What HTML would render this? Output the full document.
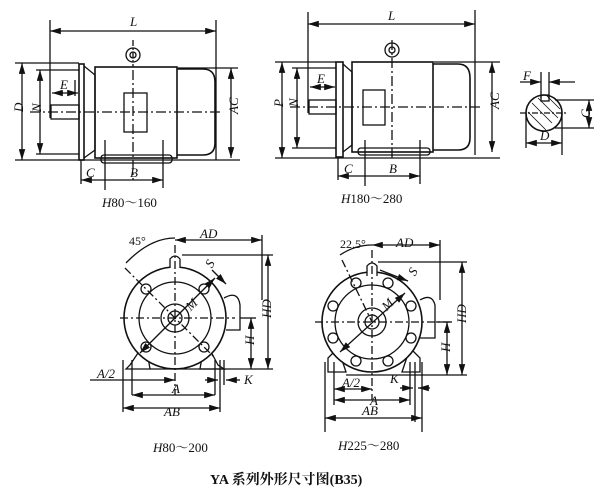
<!DOCTYPE html>
<html><head><meta charset="utf-8"><style>
html,body{margin:0;padding:0;background:#fff}
svg{display:block}
text{font-family:"Liberation Serif","Noto Serif CJK SC",serif;fill:#111}
.i{font-style:italic;font-size:13px}
</style></head><body>
<svg width="600" height="494" viewBox="0 0 600 494" xmlns="http://www.w3.org/2000/svg" stroke="#111" fill="none" stroke-width="1.2">
<defs><marker id="a" viewBox="0 0 10 6" refX="10" refY="3" markerWidth="9" markerHeight="5" orient="auto-start-reverse"><path d="M0,0L10,3L0,6z" fill="#111" stroke="none"/></marker></defs>
<g stroke-width="1.3">
<line x1="50" y1="20" x2="50" y2="118"/><line x1="216" y1="20" x2="216" y2="160"/>
<line x1="50" y1="31" x2="216" y2="31" marker-start="url(#a)" marker-end="url(#a)"/>
<rect x="51" y="105" width="28" height="14"/>
<rect x="79" y="64" width="5" height="96" stroke-width="1.6"/>
<path d="M84,66 L95,75 L95,150 L84,158"/>
<rect x="95" y="67" width="82" height="91" stroke-width="1.6"/>
<path d="M177,69 H203 Q215,69 215,82 V143 Q215,155 203,155 H177" stroke-width="1.6"/>
<rect x="124" y="93" width="23" height="39"/>
<circle cx="133" cy="55" r="7"/><circle cx="133" cy="55" r="3"/><line x1="133" y1="40" x2="133" y2="67" stroke-dasharray="6 2 2 2"/>
<rect x="101" y="155" width="71" height="8" rx="3"/>
<line x1="30" y1="112" x2="222" y2="112" stroke-dasharray="10 3 2 3"/>
<line x1="133" y1="70" x2="133" y2="180" stroke-dasharray="10 3 2 3"/>
<line x1="15" y1="63" x2="79" y2="63"/><line x1="15" y1="160" x2="240" y2="160"/>
<line x1="22" y1="63" x2="22" y2="160" marker-start="url(#a)" marker-end="url(#a)"/>
<line x1="36" y1="70" x2="79" y2="70"/><line x1="36" y1="154" x2="79" y2="154"/>
<line x1="40" y1="70" x2="40" y2="154" marker-start="url(#a)" marker-end="url(#a)"/>
<line x1="52" y1="93" x2="78" y2="93" marker-start="url(#a)" marker-end="url(#a)"/>
<line x1="75" y1="80" x2="75" y2="96"/>
<line x1="178" y1="68" x2="238" y2="68"/>
<line x1="231" y1="68" x2="231" y2="158" marker-start="url(#a)" marker-end="url(#a)"/>
<line x1="81" y1="160" x2="81" y2="184"/><line x1="105" y1="140" x2="105" y2="190"/><line x1="163" y1="140" x2="163" y2="188"/>
<line x1="81" y1="180" x2="163" y2="180" marker-start="url(#a)" marker-end="url(#a)"/>
<line x1="308" y1="12" x2="308" y2="113"/><line x1="475" y1="10" x2="475" y2="155"/>
<line x1="308" y1="24" x2="475" y2="24" marker-start="url(#a)" marker-end="url(#a)"/>
<rect x="309" y="100" width="27" height="14"/>
<rect x="336" y="62" width="7" height="95" stroke-width="1.6"/>
<path d="M343,64 L352,72 L352,145 L343,152"/>
<rect x="352" y="62" width="81" height="90" stroke-width="1.6"/>
<path d="M433,64 H458 Q470,64 470,78 V138 Q470,150 458,150 H433" stroke-width="1.6"/>
<rect x="363" y="90" width="22" height="35"/>
<circle cx="392" cy="50" r="7"/><circle cx="392" cy="50" r="3"/><line x1="392" y1="40" x2="392" y2="160" stroke-dasharray="10 3 2 3"/>
<rect x="358" y="148" width="72" height="7" rx="3"/>
<line x1="290" y1="107" x2="480" y2="107" stroke-dasharray="10 3 2 3"/>
<line x1="275" y1="62" x2="336" y2="62"/><line x1="275" y1="158" x2="500" y2="158"/>
<line x1="282" y1="62" x2="282" y2="158" marker-start="url(#a)" marker-end="url(#a)"/>
<line x1="292" y1="68" x2="336" y2="68"/><line x1="292" y1="148" x2="336" y2="148"/>
<line x1="297" y1="68" x2="297" y2="148" marker-start="url(#a)" marker-end="url(#a)"/>
<line x1="310" y1="87" x2="335" y2="87" marker-start="url(#a)" marker-end="url(#a)"/>
<line x1="434" y1="62" x2="500" y2="62"/>
<line x1="492" y1="62" x2="492" y2="152" marker-start="url(#a)" marker-end="url(#a)"/>
<line x1="338" y1="158" x2="338" y2="180"/><line x1="365" y1="140" x2="365" y2="186"/><line x1="420" y1="140" x2="420" y2="184"/>
<line x1="338" y1="176" x2="420" y2="176" marker-start="url(#a)" marker-end="url(#a)"/>
<circle cx="544" cy="113" r="18" stroke-width="1.6"/>
<rect x="541" y="95" width="8" height="6"/>
<path d="M532,103 L552,123 M528,112 L546,130 M538,98 L558,118 M547,96 L560,109" stroke-width="0.8"/>
<line x1="520" y1="113" x2="566" y2="113" stroke-dasharray="6 2 2 2"/>
<line x1="541" y1="72" x2="541" y2="98"/><line x1="549" y1="72" x2="549" y2="98"/>
<line x1="520" y1="82" x2="541" y2="82" marker-end="url(#a)"/><line x1="575" y1="82" x2="549" y2="82" marker-end="url(#a)"/>
<line x1="555" y1="100" x2="594" y2="100"/><line x1="555" y1="128" x2="594" y2="128"/>
<line x1="589" y1="100" x2="589" y2="128" marker-start="url(#a)" marker-end="url(#a)"/>
<line x1="526" y1="113" x2="526" y2="148"/><line x1="562" y1="113" x2="562" y2="155"/>
<line x1="526" y1="143" x2="562" y2="143" marker-start="url(#a)" marker-end="url(#a)"/>
<path d="M130,365 L140,350 L148,357 L150,369 L126,369 Z"/><path d="M218,365 L210,350 L202,357 L200,369 L224,369 Z"/>
<circle cx="175" cy="318" r="51" fill="#fff" stroke-width="1.6"/>
<circle cx="175" cy="318" r="36"/><circle cx="175" cy="318" r="14"/><circle cx="175" cy="318" r="7"/>
<path d="M170,268 V259 Q175,253 180,259 V268" fill="#fff"/>
<path d="M224,298 Q238,290 240,305 V330 H226"/>
<circle cx="146" cy="289" r="5"/><circle cx="204" cy="289" r="5"/><circle cx="146" cy="347" r="5"/><circle cx="204" cy="347" r="5"/>
<line x1="120" y1="318" x2="235" y2="318" stroke-dasharray="8 3 2 3"/><line x1="175" y1="245" x2="175" y2="395" stroke-dasharray="8 3 2 3"/>
<line x1="125" y1="268" x2="215" y2="358" stroke-dasharray="8 3 2 3"/><line x1="215" y1="278" x2="140" y2="353" marker-start="url(#a)" marker-end="url(#a)"/>
<path d="M126,263 Q150,238 175,238"/>
<line x1="175" y1="240" x2="262" y2="240" marker-start="url(#a)" marker-end="url(#a)"/>
<line x1="262" y1="235" x2="262" y2="300"/>
<line x1="212" y1="270" x2="226" y2="284" marker-end="url(#a)"/>
<line x1="182" y1="255" x2="273" y2="255"/><line x1="150" y1="369" x2="273" y2="369"/><line x1="240" y1="318" x2="256" y2="318"/>
<line x1="268" y1="255" x2="268" y2="369" marker-start="url(#a)" marker-end="url(#a)"/>
<line x1="251" y1="318" x2="251" y2="369" marker-start="url(#a)" marker-end="url(#a)"/>
<line x1="123" y1="360" x2="123" y2="412"/><line x1="132" y1="360" x2="132" y2="395"/><line x1="215" y1="360" x2="215" y2="395"/><line x1="220" y1="360" x2="220" y2="412"/><line x1="224" y1="360" x2="224" y2="385"/>
<line x1="90" y1="380" x2="175" y2="380" marker-end="url(#a)"/>
<line x1="132" y1="395" x2="215" y2="395" marker-start="url(#a)" marker-end="url(#a)"/>
<line x1="123" y1="408" x2="220" y2="408" marker-start="url(#a)" marker-end="url(#a)"/>
<line x1="205" y1="380" x2="218" y2="380" marker-end="url(#a)"/><line x1="240" y1="380" x2="226" y2="380" marker-end="url(#a)"/>
<path d="M328,372 V358 L338,348 L346,372 Z"/><path d="M420,372 V358 L410,348 L402,372 Z"/>
<circle cx="372" cy="322" r="50" fill="#fff" stroke-width="1.6"/>
<circle cx="372" cy="322" r="37"/><circle cx="372" cy="322" r="14"/><circle cx="372" cy="322" r="7"/>
<path d="M367,276 V266 Q372,260 377,266 V276" fill="#fff"/>
<path d="M420,300 Q432,293 435,305 V338 H420"/>
<circle cx="356" cy="283" r="5"/><circle cx="388" cy="283" r="5"/><circle cx="411" cy="306" r="5"/><circle cx="411" cy="338" r="5"/><circle cx="388" cy="361" r="5"/><circle cx="356" cy="361" r="5"/><circle cx="333" cy="338" r="5"/><circle cx="333" cy="306" r="5"/>
<line x1="315" y1="322" x2="450" y2="322" stroke-dasharray="8 3 2 3"/><line x1="372" y1="250" x2="372" y2="400" stroke-dasharray="8 3 2 3"/>
<line x1="342" y1="260" x2="372" y2="322" stroke-dasharray="8 3 2 3"/>
<line x1="405" y1="293" x2="340" y2="352" marker-start="url(#a)" marker-end="url(#a)"/>
<path d="M340,255 Q355,245 372,245"/>
<line x1="372" y1="245" x2="440" y2="245" marker-start="url(#a)" marker-end="url(#a)"/>
<line x1="440" y1="240" x2="440" y2="300"/>
<line x1="380" y1="270" x2="408" y2="281" marker-end="url(#a)"/>
<line x1="378" y1="262" x2="467" y2="262"/><line x1="346" y1="375" x2="467" y2="375"/><line x1="436" y1="322" x2="452" y2="322"/>
<line x1="462" y1="262" x2="462" y2="375" marker-start="url(#a)" marker-end="url(#a)"/>
<line x1="447" y1="322" x2="447" y2="375" marker-start="url(#a)" marker-end="url(#a)"/>
<line x1="325" y1="362" x2="325" y2="432"/><line x1="334" y1="362" x2="334" y2="405"/><line x1="410" y1="362" x2="410" y2="405"/><line x1="415" y1="362" x2="415" y2="422"/><line x1="422" y1="362" x2="422" y2="432"/>
<line x1="334" y1="389" x2="372" y2="389" marker-start="url(#a)" marker-end="url(#a)"/>
<line x1="334" y1="400" x2="410" y2="400" marker-start="url(#a)" marker-end="url(#a)"/>
<line x1="325" y1="418" x2="422" y2="418" marker-start="url(#a)" marker-end="url(#a)"/>
<line x1="400" y1="388" x2="413" y2="388" marker-end="url(#a)"/><line x1="430" y1="388" x2="418" y2="388" marker-end="url(#a)"/>
</g>
<g stroke="none">
<text class="i" x="130" y="26">L</text>
<text class="i" x="60" y="89">E</text>
<text class="i" x="18" y="117" transform="rotate(-90 18 112)">D</text>
<text class="i" x="36" y="117" transform="rotate(-90 36 112)">N</text>
<text class="i" x="226" y="122" transform="rotate(-90 228 112)">AC</text>
<text class="i" x="86" y="177">C</text>
<text class="i" x="130" y="177">B</text>
<text x="102" y="207" font-size="13"><tspan font-style="italic">H</tspan>80～160</text>
<text class="i" x="388" y="20">L</text>
<text class="i" x="317" y="83">E</text>
<text class="i" x="278" y="112" transform="rotate(-90 278 107)">P</text>
<text class="i" x="293" y="112" transform="rotate(-90 293 107)">N</text>
<text class="i" x="487" y="117" transform="rotate(-90 489 107)">AC</text>
<text class="i" x="344" y="173">C</text>
<text class="i" x="389" y="173">B</text>
<text x="341" y="203" font-size="13"><tspan font-style="italic">H</tspan>180～280</text>
<text class="i" x="523" y="80">F</text>
<text class="i" x="581" y="119" transform="rotate(-90 585 114)">G</text>
<text class="i" x="540" y="140">D</text>
<text x="129" y="245" font-size="12">45°</text>
<text class="i" x="200" y="238">AD</text>
<text class="i" x="207" y="268" transform="rotate(-60 210 264)">S</text>
<text class="i" x="186" y="310" transform="rotate(-45 190 305)">M</text>
<text class="i" x="263" y="320" transform="rotate(-90 266 315)">HD</text>
<text class="i" x="247" y="348" transform="rotate(-90 249 343)">H</text>
<text class="i" x="97" y="378">A/2</text>
<text class="i" x="172" y="393">A</text>
<text class="i" x="164" y="416">AB</text>
<text class="i" x="244" y="384">K</text>
<text x="153" y="452" font-size="13"><tspan font-style="italic">H</tspan>80～200</text>
<text x="340" y="248" font-size="12">22.5°</text>
<text class="i" x="396" y="247">AD</text>
<text class="i" x="410" y="276" transform="rotate(-60 413 272)">S</text>
<text class="i" x="382" y="310" transform="rotate(-45 386 305)">M</text>
<text class="i" x="458" y="325" transform="rotate(-90 461 320)">HD</text>
<text class="i" x="443" y="355" transform="rotate(-90 445 350)">H</text>
<text class="i" x="342" y="387">A/2</text>
<text class="i" x="390" y="383">K</text>
<text class="i" x="370" y="405">A</text>
<text class="i" x="362" y="415">AB</text>
<text x="338" y="450" font-size="13"><tspan font-style="italic">H</tspan>225～280</text>
<text x="210" y="484" font-size="14" font-weight="bold">YA 系列外形尺寸图(B35)</text>
</g>
</svg>
</body></html>
